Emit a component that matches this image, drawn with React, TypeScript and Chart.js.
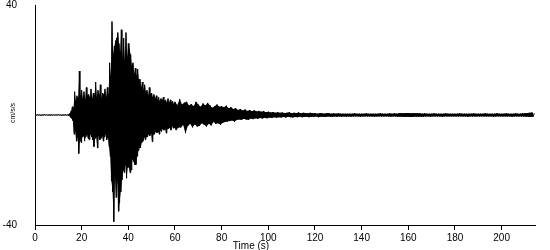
import { useEffect, useRef } from "react";
import { Chart, registerables } from "chart.js";

Chart.register(...registerables);

// Pre-event noise: 0 - 14.5 s, every 0.5 s
const QUIET_START = 0;
const QUIET_STEP = 0.5;
const QUIET: number[] = [
  0.1, -0.1, 0.15, -0.1, 0.1, -0.15, 0.1, -0.1, 0.15, -0.1,
  0.1, -0.1, 0.1, -0.15, 0.15, -0.1, 0.1, -0.1, 0.1, -0.1,
  0.15, -0.1, 0.1, -0.15, 0.1, -0.1, 0.15, -0.1, 0.1, -0.2,
];

// Strong motion: 15 - 59.75 s, every 0.25 s (one row per second)
const STRONG_START = 15;
const STRONG_STEP = 0.25;
const STRONG: number[] = [
  0.6, -0.9, 1.5, -1.2, // 15
  3, -2, 2.5, -7, // 16
  8.5, -6, 5, -9.5, // 17
  7, -8, 6, -14, // 18
  16, -9, 7, -10, // 19
  9, -8, 6, -7.5, // 20
  8.5, -9.5, 5.5, -8, // 21
  10, -7, 7, -8.5, // 22
  7.5, -9, 6.5, -7, // 23
  9.5, -8, 6, -9, // 24
  8, -11.5, 7, -8.5, // 25
  12, -8, 6.5, -12, // 26
  9, -7.5, 7, -9, // 27
  11, -8.5, 6, -7.5, // 28
  8, -9.5, 7.5, -8, // 29
  9.5, -7, 6.5, -9, // 30
  10, -8, 7, -11.5, // 31
  19, -15, 14, -24, // 32
  34, -28, 22, -38.8, // 33
  25, -22, 27, -30, // 34
  28, -24, 30, -35, // 35
  26, -32, 23, -28, // 36
  31, -23.6, 21, -20, // 37
  28, -21, 20, -18, // 38
  30, -23, 21, -19, // 39
  26, -19, 24, -21, // 40
  22, -20, 18, -16, // 41
  19, -17, 15, -18, // 42
  17, -18, 14, -15, // 43
  16.7, -13, 13, -12, // 44
  13, -12, 10, -10, // 45
  12, -9.5, 9, -8, // 46
  11, -9, 8.5, -8, // 47
  9, -8, 7, -7, // 48
  10, -7.5, 7.5, -6.5, // 49
  8, -9.7, 6.5, -7, // 50
  7.5, -7, 6, -6, // 51
  7, -6.5, 5.5, -6, // 52
  6.5, -7, 5, -5.5, // 53
  6, -6, 5.5, -5, // 54
  6.5, -5.5, 5, -5, // 55
  5.5, -6.6, 4.5, -5, // 56
  6, -5, 4.5, -4.5, // 57
  5.5, -5.5, 4.5, -4, // 58
  5, -4.8, 4, -4.5, // 59
];

// Coda: 60 - 214 s, every 0.5 s (one row per 5 s)
const CODA_START = 60;
const CODA_STEP = 0.5;
const CODA: number[] = [
  4.8, -5.5, 3.6, -4.5, 5.8, -4.5, 3.8, -3.6, 4.5, -6.6, // 60
  4.8, -4, 3.5, -3.2, 4, -4.5, 3.2, -3.4, 4.8, -4.2, // 65
  3.8, -4, 3, -3, 4.2, -3.5, 3.5, -4.2, 4.4, -3.2, // 70
  3.5, -3.8, 2.6, -2.5, 3.2, -3.2, 3.8, -3, 3, -3.5, // 75 (values for 70 row shift)
  3.2, -2.8, 2.8, -2.5, 3.4, -2.4, 2.5, -2.2, 2.8, -2, // 80
  2.2, -2.4, 2.5, -1.8, 1.8, -1.6, 2.2, -1.8, 1.6, -1.4, // 85
  2, -1.6, 1.5, -1.8, 1.8, -1.3, 1.4, -1.5, 1.7, -1.2, // 90
  1.3, -1.4, 1.5, -1.1, 1.2, -1.3, 1.4, -1, 1, -1.2, // 95
  1.2, -0.9, 0.9, -1.1, 1.1, -0.8, 0.8, -1, 1, -0.8, // 100
  0.8, -0.9, 0.9, -0.7, 0.7, -0.9, 0.8, -0.6, 1.0, -0.8, // 105
  0.6, -0.9, 0.8, -0.7, 0.7, -0.8, 0.9, -0.6, 0.6, -0.8, // 110
  0.8, -0.7, 0.7, -0.6, 0.6, -0.8, 0.8, -0.6, 0.6, -0.7, // 115
  0.7, -0.5, 0.5, -0.8, 0.7, -0.6, 0.6, -0.6, 0.5, -0.7, // 120
  0.7, -0.5, 0.6, -0.6, 0.5, -0.7, 0.6, -0.5, 0.5, -0.6, // 125
  0.6, -0.5, 0.5, -0.6, 0.5, -0.5, 0.5, -0.6, 0.5, -0.5, // 130
  0.5, -0.6, 0.5, -0.5, 0.6, -0.5, 0.5, -0.5, 0.5, -0.6, // 135
  0.5, -0.5, 0.5, -0.5, 0.6, -0.5, 0.5, -0.5, 0.5, -0.5, // 140
  0.5, -0.6, 0.5, -0.5, 0.5, -0.5, 0.6, -0.5, 0.5, -0.5, // 145
  0.5, -0.5, 0.5, -0.5, 0.6, -0.6, 0.5, -0.5, 0.6, -0.5, // 150
  0.5, -0.6, 0.6, -0.6, 0.7, -0.6, 0.6, -0.7, 0.7, -0.6, // 155
  0.7, -0.7, 0.6, -0.7, 0.7, -0.6, 0.6, -0.6, 0.7, -0.6, // 160
  0.6, -0.6, 0.5, -0.6, 0.6, -0.5, 0.5, -0.5, 0.5, -0.6, // 165
  0.5, -0.5, 0.6, -0.5, 0.5, -0.5, 0.5, -0.5, 0.5, -0.6, // 170
  0.5, -0.5, 0.6, -0.5, 0.5, -0.5, 0.5, -0.5, 0.5, -0.5, // 175
  0.5, -0.5, 0.5, -0.5, 0.6, -0.5, 0.5, -0.5, 0.5, -0.5, // 180
  0.5, -0.6, 0.5, -0.5, 0.5, -0.5, 0.6, -0.5, 0.5, -0.5, // 185
  0.5, -0.5, 0.5, -0.5, 0.5, -0.5, 0.6, -0.5, 0.5, -0.5, // 190
  0.5, -0.5, 0.5, -0.6, 0.5, -0.5, 0.6, -0.5, 0.5, -0.5, // 195
  0.5, -0.5, 0.5, -0.5, 0.6, -0.5, 0.5, -0.5, 0.5, -0.6, // 200
  0.5, -0.5, 0.6, -0.5, 0.5, -0.5, 0.5, -0.5, 0.6, -0.5, // 205
  0.6, -0.6, 0.7, -0.6, 0.8, -0.7, 0.9, -0.6, 0.6, // 210
];

const X_MIN = 0;
const X_MAX = 214.3;
const X_TICK_STEP = 20;
const Y_MIN = -40;
const Y_MAX = 40;
const Y_TICKS = [-40, 40];
const X_TITLE = "Time (s)";
const Y_TITLE = "cm/s/s";

const FONT_FAMILY = '"Liberation Sans", Arial, sans-serif';

const titlesPlugin = {
  id: "axisTitles",
  afterDraw(chart: any) {
    const ctx = chart.ctx as CanvasRenderingContext2D;
    const area = chart.chartArea;
    ctx.save();
    ctx.fillStyle = "#000";
    ctx.font = `10px ${FONT_FAMILY}`;
    ctx.textAlign = "center";
    ctx.textBaseline = "alphabetic";
    ctx.fillText(X_TITLE, area.left + (area.right - area.left) * 0.432, 249);
    ctx.translate(15, (area.top + area.bottom) / 2 - 2);
    ctx.rotate(-Math.PI / 2);
    ctx.font = `7px ${FONT_FAMILY}`;
    ctx.fillText(Y_TITLE, 0, 0);
    ctx.restore();
  },
};

function toPoints(start: number, step: number, values: number[]) {
  return values.map((v, i) => ({ x: start + i * step, y: v }));
}

export default function App() {
  const ref = useRef<HTMLCanvasElement>(null);

  useEffect(() => {
    document.body.style.margin = "0";
    const points = [
      ...toPoints(QUIET_START, QUIET_STEP, QUIET),
      ...toPoints(STRONG_START, STRONG_STEP, STRONG),
      ...toPoints(CODA_START, CODA_STEP, CODA),
    ];
    const upper = points.filter((p) => p.y >= 0);
    const lower = points.filter((p) => p.y < 0);
    const chart = new Chart(ref.current!, {
      type: "line",
      data: {
        datasets: [
          {
            data: upper,
            borderWidth: 0,
            borderColor: "rgba(0,0,0,0)",
            backgroundColor: "#000",
            pointRadius: 0,
            tension: 0,
            fill: "+1",
          },
          {
            data: lower,
            borderWidth: 0,
            borderColor: "rgba(0,0,0,0)",
            pointRadius: 0,
            tension: 0,
            fill: false,
          },
          {
            data: points,
            borderColor: "#000",
            borderWidth: 1,
            pointRadius: 0,
            tension: 0,
            fill: false,
          },
        ],
      },
      options: {
        responsive: false,
        animation: false,
        layout: { padding: { top: 5, right: 15, left: 0, bottom: 0 } },
        plugins: {
          legend: { display: false },
          tooltip: { enabled: false },
        },
        scales: {
          x: {
            type: "linear",
            min: X_MIN,
            max: X_MAX,
            afterFit(scale: any) {
              scale.height = 25;
              scale.paddingLeft = 0;
              scale.paddingRight = 0;
            },
            grid: {
              display: true,
              drawOnChartArea: false,
              drawTicks: true,
              tickLength: 5,
              color: "#000",
            },
            border: { display: true, color: "#000", width: 1 },
            ticks: {
              stepSize: X_TICK_STEP,
              includeBounds: false,
              autoSkip: false,
              maxRotation: 0,
              padding: 2,
              color: "#000",
              font: { family: FONT_FAMILY, size: 10 },
            },
          },
          y: {
            type: "linear",
            min: Y_MIN,
            max: Y_MAX,
            afterFit(scale: any) {
              scale.width = 35;
              scale.paddingTop = 0;
              scale.paddingBottom = 0;
            },
            afterBuildTicks(scale: any) {
              scale.ticks = Y_TICKS.map((v) => ({ value: v }));
            },
            grid: {
              display: true,
              drawOnChartArea: false,
              drawTicks: false,
              color: "rgba(0,0,0,0)",
            },
            border: { display: true, color: "#000", width: 1 },
            ticks: {
              padding: 18,
              color: "#000",
              font: { family: FONT_FAMILY, size: 10 },
            },
          },
        },
      },
      plugins: [titlesPlugin],
    });
    return () => chart.destroy();
  }, []);

  return (
    <div style={{ width: 550, height: 250 }}>
      <canvas ref={ref} width={550} height={250} />
    </div>
  );
}
